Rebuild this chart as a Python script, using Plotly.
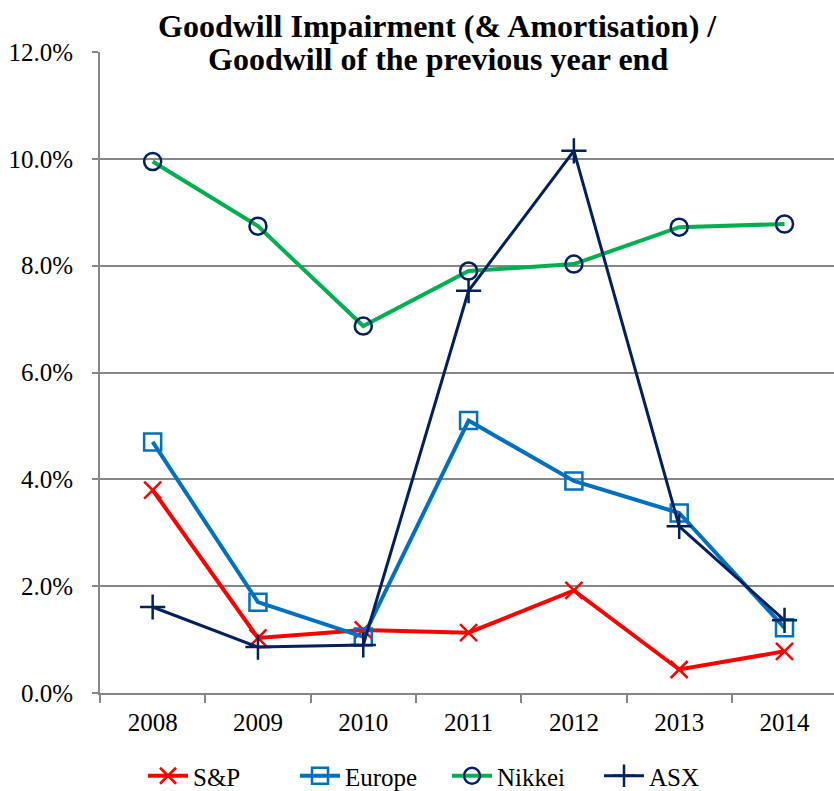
import plotly.graph_objects as go

years = ["2008", "2009", "2010", "2011", "2012", "2013", "2014"]
sp = [3.80, 1.03, 1.18, 1.13, 1.92, 0.44, 0.78]
europe = [4.70, 1.70, 1.05, 5.10, 3.97, 3.37, 1.22]
nikkei = [9.95, 8.74, 6.87, 7.90, 8.03, 8.72, 8.78]
asx = [1.61, 0.86, 0.90, 7.53, 10.15, 3.12, 1.36]

title_lines = ["Goodwill Impairment (&amp; Amortisation) /", "Goodwill of the previous year end"]

FONT = "Liberation Serif, Times New Roman, serif"
GRID = "#868686"
PLOT_H = 791 - 52 - 98

fig = go.Figure()

fig.add_trace(go.Scatter(
    x=years, y=sp, name="S&P", mode="lines+markers",
    line=dict(color="#FF0000", width=4),
    marker=dict(symbol="x-thin", size=17, line=dict(color="#FF0000", width=2.5)),
))
fig.add_trace(go.Scatter(
    x=years, y=europe, name="Europe", mode="lines+markers",
    line=dict(color="#0070C0", width=4),
    marker=dict(symbol="square-open", size=17, color="#0070C0", line=dict(width=2.5)),
))
fig.add_trace(go.Scatter(
    x=years, y=nikkei, name="Nikkei", mode="lines+markers",
    line=dict(color="#00B050", width=4),
    marker=dict(symbol="circle-open", size=17, color="#002060", line=dict(width=2.5)),
))
fig.add_trace(go.Scatter(
    x=years, y=asx, name="ASX", mode="lines+markers",
    line=dict(color="#002060", width=3),
    marker=dict(symbol="cross-thin", size=18, line=dict(color="#002060", width=2.5)),
))

# white box breaking the top gridline behind the title
fig.add_shape(type="rect", xref="paper", yref="paper", layer="above",
              x0=(155 - 100) / 734, x1=(729 - 100) / 734,
              y0=1 - 8 / PLOT_H, y1=1 + 8 / PLOT_H,
              fillcolor="white", line=dict(width=0))
for txt, py in zip(title_lines, [26, 59]):
    fig.add_annotation(
        text="<b>" + txt + "</b>", xref="paper", yref="paper",
        x=0.46, y=1 + (52 - py) / PLOT_H, yanchor="middle", showarrow=False,
        font=dict(family=FONT, size=32, color="black"),
    )

fig.update_layout(
    width=834, height=791,
    margin=dict(l=100, r=0, t=52, b=98),
    paper_bgcolor="white", plot_bgcolor="white",
    font=dict(family=FONT, size=25, color="black"),
    showlegend=True,
    legend=dict(orientation="h", x=143 / 834, xanchor="left", xref="container",
                y=(791 - 776) / 791, yanchor="middle", yref="container",
                font=dict(family=FONT, size=25), entrywidth=97, entrywidthmode="pixels",
                itemwidth=40, tracegroupgap=0),
)
fig.update_xaxes(
    type="category", range=[-0.5, 6.47], automargin=False,
    tickson="boundaries", ticks="outside", ticklen=8, tickwidth=2, tickcolor=GRID,
    ticklabelstandoff=6,
    showline=True, linecolor=GRID, linewidth=2, showgrid=False,
)
fig.update_yaxes(
    range=[0, 12], dtick=2, tickformat=".1f", ticksuffix="%", automargin=False,
    ticks="outside", ticklen=6, tickwidth=2, tickcolor=GRID, ticklabelstandoff=14,
    showline=True, linecolor=GRID, linewidth=2,
    showgrid=True, gridcolor=GRID, gridwidth=2, zeroline=False,
)

fig.write_html("out.html", config={"displayModeBar": False},
               post_script="document.body.style.margin='0';")
